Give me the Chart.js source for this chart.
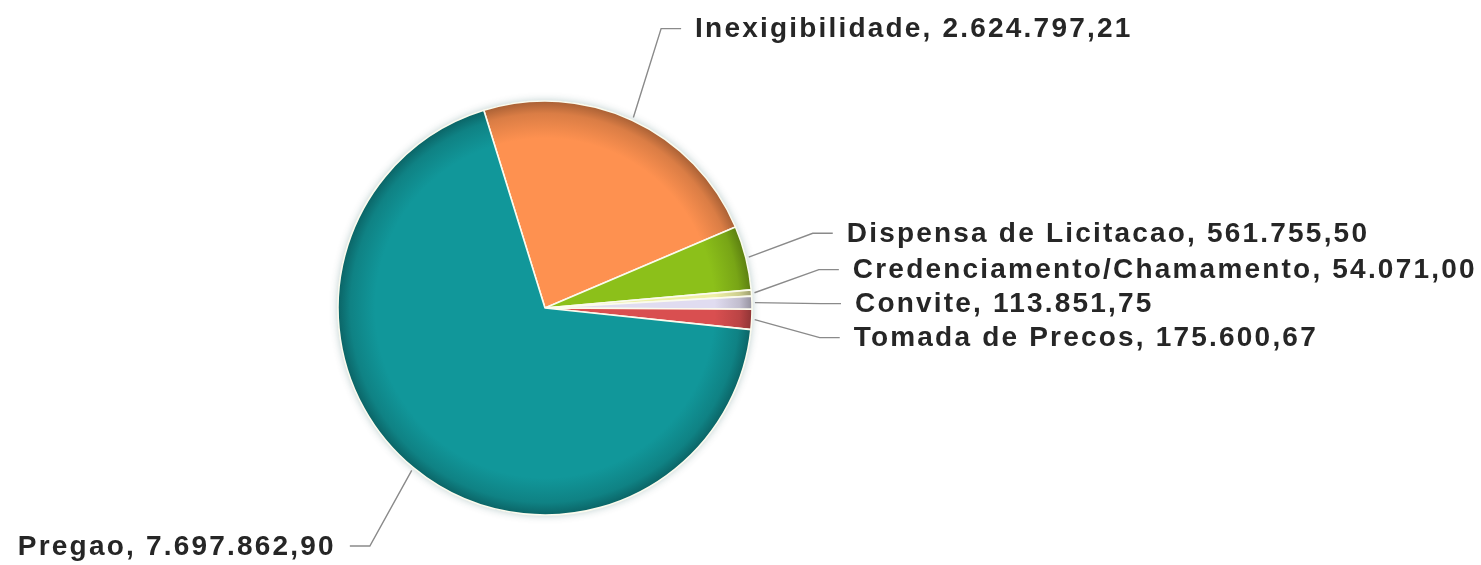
<!DOCTYPE html>
<html>
<head>
<meta charset="utf-8">
<script src="https://cdn.jsdelivr.net/npm/chart.js@4.4.0/dist/chart.umd.min.js"></script>
<style>
  html, body { margin: 0; padding: 0; background: #ffffff; }
  #wrap { width: 1481px; height: 565px; position: relative; }
</style>
</head>
<body>
<div id="wrap"><canvas id="c" width="1481" height="565"></canvas></div>
<script>
// ---- data ----
const categories = [
  'Inexigibilidade',
  'Dispensa de Licitacao',
  'Credenciamento/Chamamento',
  'Convite',
  'Tomada de Precos',
  'Pregao'
];
const values = [2624797.21, 561755.50, 54071.00, 113851.75, 175600.67, 7697862.90];
const sliceColors = ['#fe9150', '#8cc01a', '#eef0a6', '#e0dcf0', '#d94f50', '#11979a'];

// ---- helpers ----
function fmtBR(v) {
  const parts = v.toFixed(2).split('.');
  const intPart = parts[0].replace(/\B(?=(\d{3})+(?!\d))/g, '.');
  return intPart + ',' + parts[1];
}
function shade(hex, f) {
  const n = parseInt(hex.slice(1), 16);
  let r = (n >> 16) & 255, g = (n >> 8) & 255, b = n & 255;
  r = Math.round(r * f); g = Math.round(g * f); b = Math.round(b * f);
  return 'rgb(' + r + ',' + g + ',' + b + ')';
}
const PIE_R = 207;

function sliceFill(context) {
  const chart = context.chart;
  const area = chart.chartArea;
  const base = sliceColors[context.dataIndex];
  if (!area) return base;
  const cx = (area.left + area.right) / 2;
  const cy = (area.top + area.bottom) / 2;
  const g = chart.ctx.createRadialGradient(cx, cy, 0, cx, cy, PIE_R);
  g.addColorStop(0, base);
  g.addColorStop(0.82, base);
  g.addColorStop(0.94, shade(base, 0.86));
  g.addColorStop(1, shade(base, 0.66));
  return g;
}

const shadowPlugin = {
  id: 'pieShadow',
  beforeDatasetsDraw(chart) {
    const arc = chart.getDatasetMeta(0).data[0];
    if (!arc) return;
    const ctx = chart.ctx;
    ctx.save();
    ctx.beginPath();
    ctx.arc(arc.x, arc.y, arc.outerRadius, 0, Math.PI * 2);
    ctx.shadowColor = 'rgba(0,70,70,0.3)';
    ctx.shadowBlur = 8;
    ctx.fillStyle = '#11979a';
    ctx.fill();
    ctx.restore();
  }
};

function spread(list, gap, minY, maxY) {
  list.sort((a, b) => a.ny - b.ny);
  const clusters = list.map(it => ({ items: [it], sum: it.ny }));
  const startOf = c => {
    const n = c.items.length;
    let s = c.sum / n - gap * (n - 1) / 2;
    s = Math.max(minY, Math.min(s, maxY - gap * (n - 1)));
    return s;
  };
  let merged = true;
  while (merged) {
    merged = false;
    for (let k = 0; k < clusters.length - 1; k++) {
      const a = clusters[k], b = clusters[k + 1];
      const aEnd = startOf(a) + gap * (a.items.length - 1);
      if (startOf(b) - aEnd < gap) {
        a.items = a.items.concat(b.items);
        a.sum += b.sum;
        clusters.splice(k + 1, 1);
        merged = true;
        break;
      }
    }
  }
  clusters.forEach(c => {
    const s = startOf(c);
    c.items.forEach((it, j) => { it.y = s + j * gap; });
  });
}

const labelPlugin = {
  id: 'pieLabels',
  afterDatasetsDraw(chart) {
    const arcs = chart.getDatasetMeta(0).data;
    if (!arcs.length) return;
    const ctx = chart.ctx;
    const cx = arcs[0].x, cy = arcs[0].y, r = arcs[0].outerRadius;
    const Rx = r + 69, Ry = r + 101;
    const items = arcs.map((arc, i) => {
      const mid = (arc.startAngle + arc.endAngle) / 2;
      const dx = Math.cos(mid), dy = Math.sin(mid);
      return {
        i, side: dx >= 0 ? 1 : -1,
        ax: cx + (r + 3) * dx, ay: cy + (r + 3) * dy,
        ny: cy + Ry * dy, y: cy + Ry * dy
      };
    });
    const H = chart.height;
    spread(items.filter(it => it.side > 0), 34, 14, H - 14);
    spread(items.filter(it => it.side < 0), 34, 14, H - 14);

    ctx.save();
    ctx.font = 'bold 28px "Liberation Sans", Arial, sans-serif';
    if ('letterSpacing' in ctx) ctx.letterSpacing = '2.2px';
    ctx.textBaseline = 'middle';
    items.forEach(it => {
      const t = (it.y - cy) / Ry;
      const bx = cx + it.side * Rx * Math.sqrt(Math.max(0, 1 - t * t));
      ctx.beginPath();
      ctx.moveTo(it.ax, it.ay);
      ctx.lineTo(bx, it.y);
      ctx.lineTo(bx + it.side * 20, it.y);
      ctx.strokeStyle = '#8a8a8a';
      ctx.lineWidth = 1.4;
      ctx.stroke();
      const text = categories[it.i] + ', ' + fmtBR(values[it.i]);
      ctx.fillStyle = '#262626';
      ctx.textAlign = it.side > 0 ? 'left' : 'right';
      ctx.fillText(text, bx + it.side * 34, it.y + 1);
    });
    ctx.restore();
  }
};

new Chart(document.getElementById('c'), {
  type: 'pie',
  data: {
    labels: categories,
    datasets: [{
      data: values,
      backgroundColor: sliceFill,
      borderColor: '#fbfbee',
      borderWidth: 1.6
    }]
  },
  options: {
    responsive: false,
    devicePixelRatio: 1,
    animation: false,
    rotation: -17.2,
    radius: PIE_R,
    layout: { padding: { left: 0, right: 391, top: 51, bottom: 0 } },
    plugins: {
      legend: { display: false },
      tooltip: { enabled: false }
    }
  },
  plugins: [shadowPlugin, labelPlugin]
});
</script>
</body>
</html>
